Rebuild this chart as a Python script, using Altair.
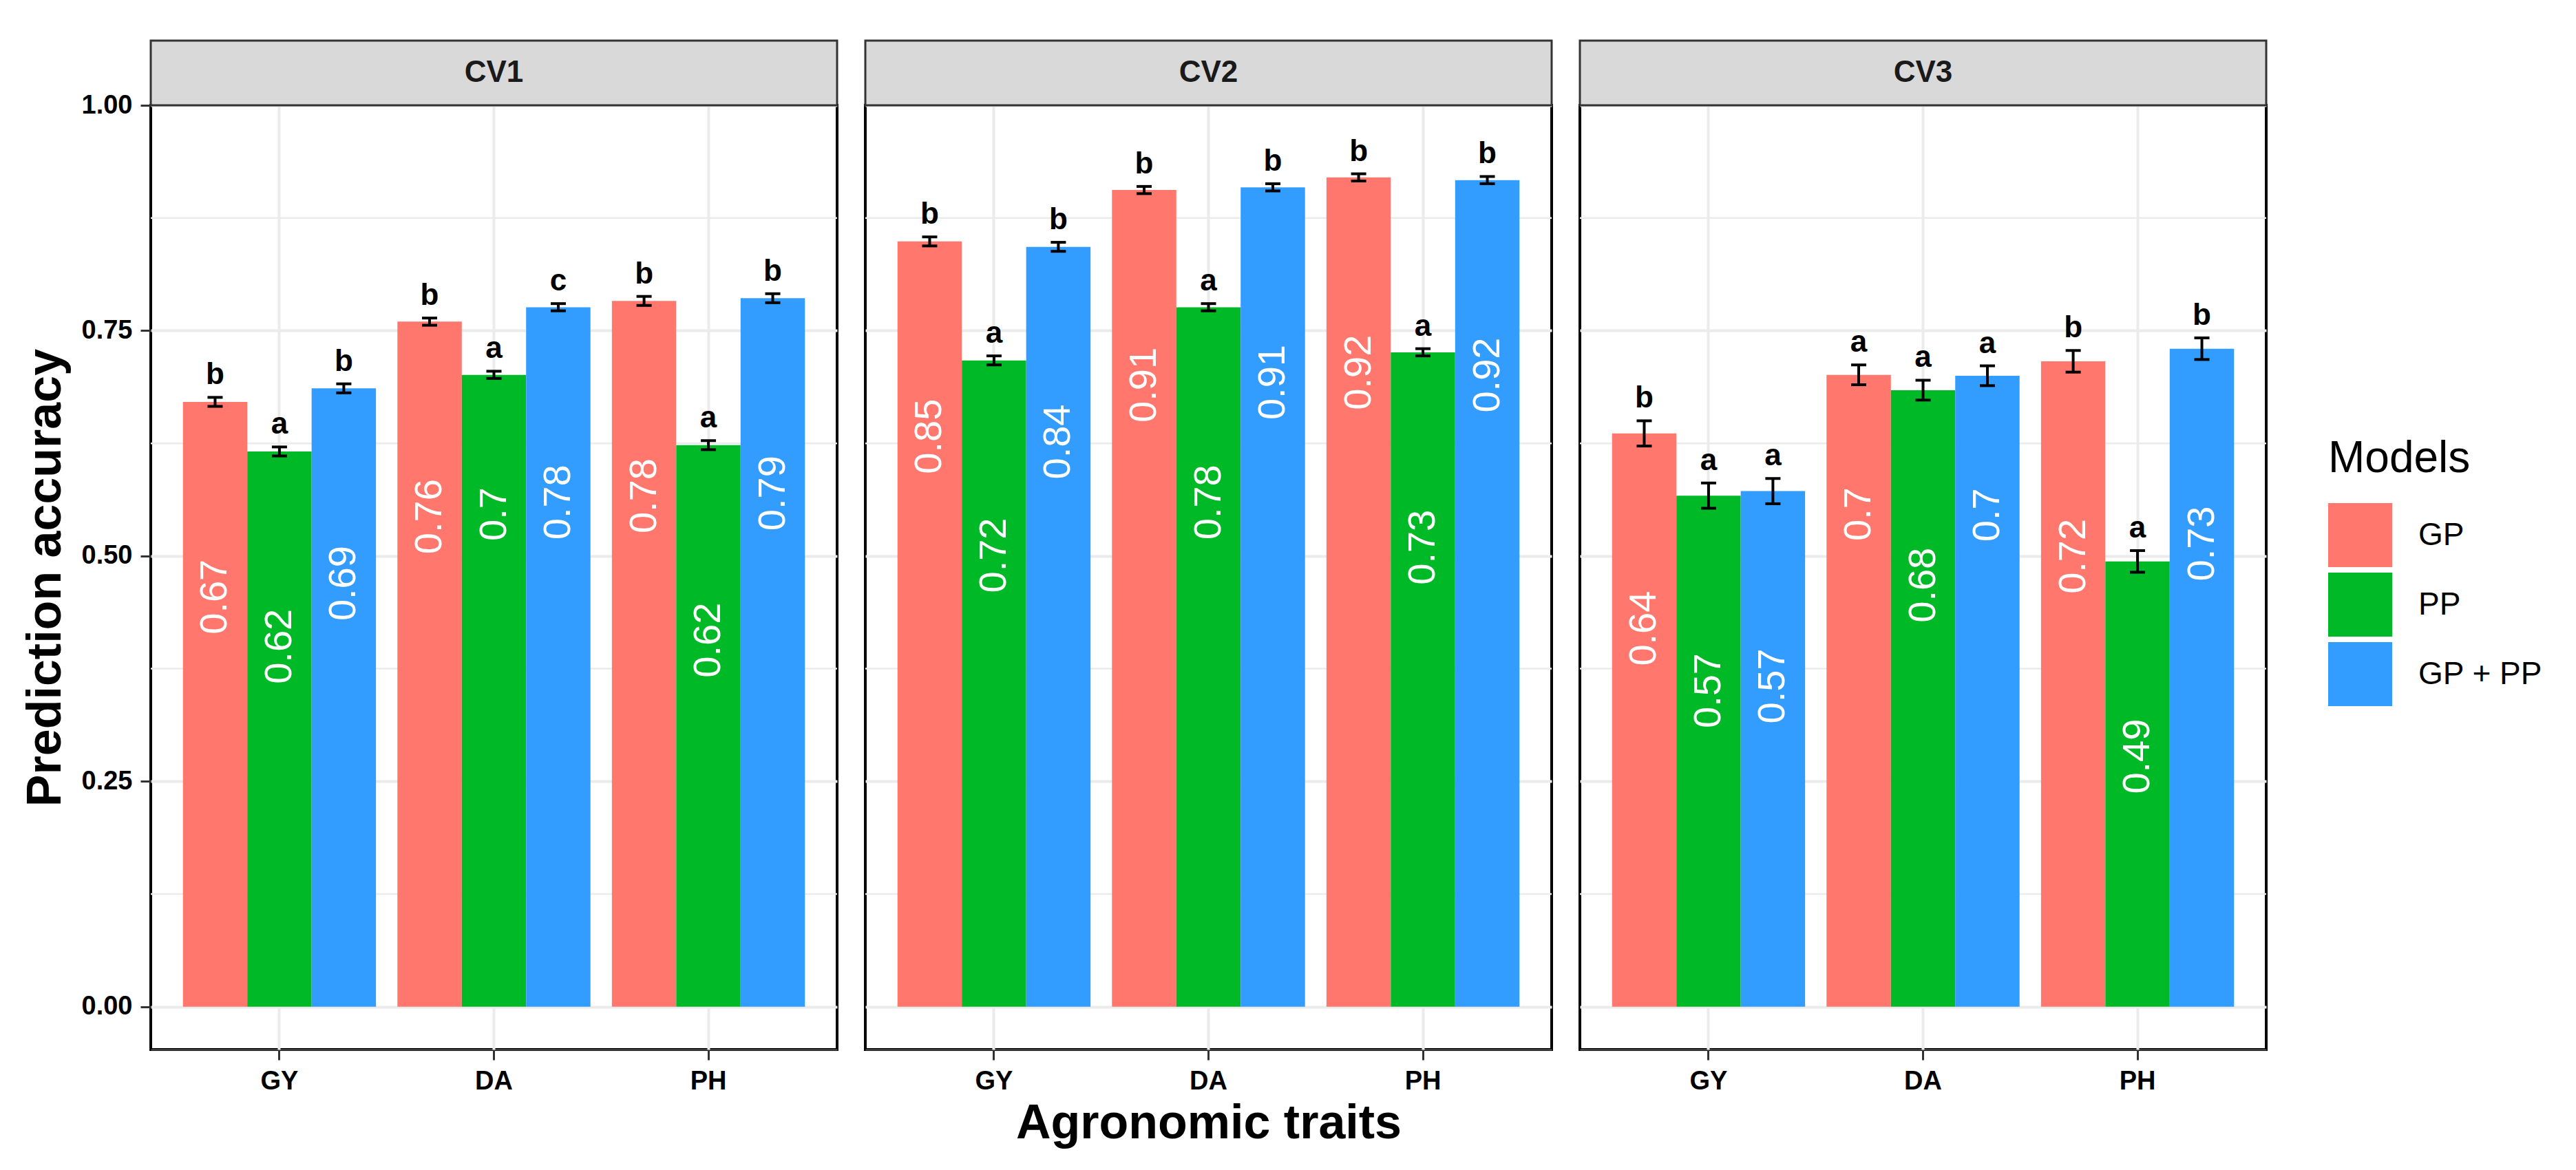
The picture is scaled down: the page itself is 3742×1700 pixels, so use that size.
import altair as alt
import pandas as pd

# ---- data ----
CVS = ["CV1", "CV2", "CV3"]
TRAITS = ["GY", "DA", "PH"]
MODELS = ["GP", "PP", "GP + PP"]
MODEL_COLORS = ["#FF776D", "#00B926", "#339CFF"]

# order: GY(GP, PP, GP+PP), DA(...), PH(...)
CV1_ACC = [0.671, 0.616, 0.686, 0.760, 0.701, 0.776, 0.783, 0.623, 0.786]
CV2_ACC = [0.849, 0.717, 0.843, 0.906, 0.776, 0.909, 0.920, 0.726, 0.917]
CV3_ACC = [0.636, 0.567, 0.572, 0.701, 0.684, 0.700, 0.716, 0.494, 0.730]

CV1_SE = [0.005, 0.005, 0.005, 0.004, 0.004, 0.004, 0.005, 0.005, 0.005]
CV2_SE = [0.005, 0.005, 0.005, 0.004, 0.004, 0.004, 0.004, 0.004, 0.004]
CV3_SE = [0.014, 0.014, 0.014, 0.011, 0.011, 0.011, 0.012, 0.012, 0.012]

CV1_LET = ["b", "a", "b", "b", "a", "c", "b", "a", "b"]
CV2_LET = ["b", "a", "b", "b", "a", "b", "b", "a", "b"]
CV3_LET = ["b", "a", "a", "a", "a", "a", "b", "a", "b"]

MAJOR = [0.0, 0.25, 0.5, 0.75, 1.0]
MINOR = [0.125, 0.375, 0.625, 0.875]

# ---- layout ----
W, H = 997, 1372
Y_MIN = -0.0475
PXU = H / (1.0 - Y_MIN)
FONT = "Liberation Sans, Arial, Helvetica, sans-serif"
VAL_SIZE = 56
STRIP_H = 94

rows = []
for cv, acc, se, let in zip(CVS, [CV1_ACC, CV2_ACC, CV3_ACC],
                            [CV1_SE, CV2_SE, CV3_SE], [CV1_LET, CV2_LET, CV3_LET]):
    for i, (a, s, l) in enumerate(zip(acc, se, let)):
        lab = f"{a:.2f}".rstrip("0").rstrip(".")
        lpx = VAL_SIZE * sum(0.278 if c == "." else 0.556 for c in lab)
        rows.append({
            "cv": cv,
            "trait": TRAITS[i // 3],
            "model": MODELS[i % 3],
            "acc": a,
            "lo": a - s,
            "hi": a + s,
            "letter": l,
            "lab": lab,
            # ggplot-like hjust beyond 1: text top sits ~2.1 text lengths below bar top
            "lab_y": a - 2.1 * lpx / PXU,
        })
df = pd.DataFrame(rows)
minor_df = pd.DataFrame({"y": MINOR})

y_scale = alt.Scale(domain=[Y_MIN, 1.0], nice=False, zero=False)
color = alt.Color(
    "model:N",
    sort=MODELS,
    scale=alt.Scale(domain=MODELS, range=MODEL_COLORS),
    legend=alt.Legend(
        title="Models", orient="none", legendX=3163, legendY=482,
        titleFontSize=64, titleFontWeight="normal", titleColor="black", titleFont=FONT,
        titleLimit=600, labelLimit=600,
        labelFontSize=46, labelColor="black", labelFont=FONT, labelOffset=38,
        symbolType="square", symbolSize=8649, symbolStrokeWidth=0, symbolOpacity=1,
        rowPadding=8, titlePadding=32, padding=0,
    ),
)


def panel(i, cv):
    d = df[df["cv"] == cv]
    first = i == 0
    yaxis = alt.Axis(
        values=MAJOR, format=".2f", grid=True,
        labels=first, ticks=first, domain=False,
        title="Prediction accuracy" if first else None,
        titlePadding=16,
    )
    xaxis = alt.Axis(title="Agronomic traits" if i == 1 else None, labelAngle=0, grid=True)
    x = alt.X("trait:N", sort=TRAITS, axis=xaxis,
              scale=alt.Scale(paddingInner=0.1, paddingOuter=0.15))
    xo = alt.XOffset("model:N", sort=MODELS, scale=alt.Scale(paddingInner=0, paddingOuter=0))

    minor = alt.Chart(minor_df).mark_rule(color="#EBEBEB", strokeWidth=2.5).encode(
        y=alt.Y("y:Q", scale=y_scale, axis=yaxis)
    )
    base = alt.Chart(d)
    bars = base.mark_bar().encode(
        x=x, xOffset=xo,
        y=alt.Y("acc:Q", scale=y_scale, axis=yaxis),
        color=color,
    )
    err = base.mark_rule(color="black", strokeWidth=4).encode(
        x=x, xOffset=xo,
        y=alt.Y("lo:Q", scale=y_scale, axis=yaxis), y2="hi:Q",
    )
    cap_lo = base.mark_tick(color="black", thickness=4, size=22, opacity=1).encode(
        x=x, xOffset=xo, y=alt.Y("lo:Q", scale=y_scale, axis=yaxis)
    )
    cap_hi = base.mark_tick(color="black", thickness=4, size=22, opacity=1).encode(
        x=x, xOffset=xo, y=alt.Y("hi:Q", scale=y_scale, axis=yaxis)
    )
    letters = base.mark_text(
        font=FONT, fontSize=44, fontWeight="bold", color="black",
        baseline="alphabetic", dy=-19,
    ).encode(x=x, xOffset=xo, y=alt.Y("hi:Q", scale=y_scale, axis=yaxis), text="letter:N")
    values = base.mark_text(
        font=FONT, fontSize=VAL_SIZE, color="white",
        angle=270, align="right", baseline="middle",
    ).encode(x=x, xOffset=xo, y=alt.Y("lab_y:Q", scale=y_scale, axis=yaxis), text="lab:N")

    strip_df = pd.DataFrame({"cv": [cv]})
    strip = alt.Chart(strip_df).mark_rect(
        fill="#D9D9D9", stroke="#333333", strokeWidth=3
    ).encode(x=alt.value(0), x2=alt.value(W), y=alt.value(-STRIP_H), y2=alt.value(0))
    strip_txt = alt.Chart(strip_df).mark_text(
        font=FONT, fontSize=44, fontWeight="bold", color="#1A1A1A", baseline="middle"
    ).encode(x=alt.value(W / 2), y=alt.value(-STRIP_H / 2), text="cv:N")

    return alt.layer(minor, bars, err, cap_lo, cap_hi, letters, values, strip, strip_txt).properties(
        width=W, height=H
    )


chart = (
    alt.hconcat(*[panel(i, cv) for i, cv in enumerate(CVS)], spacing=33)
    .properties(padding={"left": 21, "top": 47, "right": 10, "bottom": 10}, background="white")
    .configure_view(stroke="black", strokeWidth=4)
    .configure_axis(
        labelFont=FONT, labelFontSize=38, labelFontWeight="bold", labelColor="black",
        labelPadding=12,
        tickColor="#333333", tickWidth=3, tickSize=15,
        titleFont=FONT, titleFontSize=70, titleFontWeight="bold", titleColor="black",
        gridColor="#EBEBEB", gridWidth=4,
    )
    .configure_axisX(titlePadding=8)
)

chart.save("out.html", embed_options={"renderer": "svg", "actions": False})
